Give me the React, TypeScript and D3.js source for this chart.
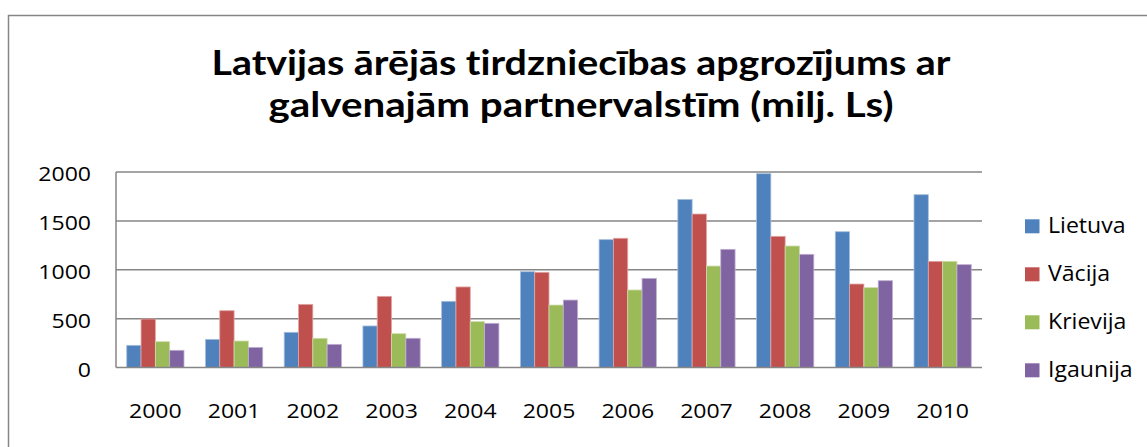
import React from "react";
import * as d3 from "d3";

const years = ["2000", "2001", "2002", "2003", "2004", "2005", "2006", "2007", "2008", "2009", "2010"];
const seriesNames = ["Lietuva", "Vācija", "Krievija", "Igaunija"];
const lietuva = [227, 288, 360, 425, 677, 980, 1308, 1720, 1983, 1389, 1768];
const vacija = [496, 581, 646, 728, 824, 974, 1322, 1570, 1342, 854, 1086];
const krievija = [264, 271, 299, 346, 469, 639, 793, 1038, 1243, 817, 1086];
const igaunija = [176, 206, 237, 299, 452, 690, 912, 1209, 1158, 888, 1052];
const yTicks = [0, 500, 1000, 1500, 2000];
const titleLines = ["Latvijas ārējās tirdzniecības apgrozījums ar", "galvenajām partnervalstīm (milj. Ls)"];

const colors = ["#4F81BD", "#C0504D", "#9BBB59", "#8064A2"];
const strokes = ["#A7C0DE", "#DFA7A6", "#CDDDAC", "#BFB1D0"];
const seriesData = [lietuva, vacija, krievija, igaunija];

const W = 1147;
const H = 447;
const FONT = "'Open Sans', 'DejaVu Sans', sans-serif";
const TITLE_FONT = "Lato, 'Open Sans', sans-serif";
const GRID = "#868686";

type TP = {
  x: number; y: number; anchor?: string; size: number; weight?: string;
  children: React.ReactNode; textLength?: number; sx?: number; family?: string;
};

const T = (p: TP) => (
  <text
    transform={p.textLength ? `translate(${p.x},${p.y})` : `translate(${p.x},${p.y}) scale(${p.sx ?? 1.2},1)`}
    textAnchor={p.anchor || "start"}
    fontFamily={p.family || FONT}
    fontSize={p.size}
    fontWeight={p.weight || "normal"}
    fill="#000"
    textLength={p.textLength}
    lengthAdjust={p.textLength ? "spacingAndGlyphs" : undefined}
    style={{ fontVariantLigatures: "none", fontFeatureSettings: "'liga' 0, 'clig' 0, 'dlig' 0" }}
  >
    {p.children}
  </text>
);

export default function App() {
  const left = 116;
  const right = 982;
  const top = 172;
  const bottom = 367.5;

  const x = d3.scaleBand<string>().domain(years).range([left, right]).paddingInner(0.2727).paddingOuter(0.1364);
  const outer = d3.scaleBand<string>().domain(years).range([left, right]);
  const inner = d3.scaleBand<string>().domain(seriesNames).range([0, x.bandwidth()]);
  const y = d3.scaleLinear().domain([0, 2000]).range([bottom, top]);

  return (
    <svg width={W} height={H} style={{ position: "absolute", left: 0, top: 0, background: "#fff" }}>
      <rect x={0} y={0} width={W} height={H} fill="#fff" />
      <rect x={8.5} y={15.5} width={W + 20} height={H + 20} fill="none" stroke={GRID} strokeWidth={1.5} />

      <T x={581} y={74.5} anchor="middle" size={34} weight="bold" family={TITLE_FONT} textLength={739}>{titleLines[0]}</T>
      <T x={581} y={116.5} anchor="middle" size={34} weight="bold" family={TITLE_FONT} textLength={625}>{titleLines[1]}</T>

      {yTicks.map((t) => (
        <g key={t}>
          {t > 0 && <line x1={left} x2={right} y1={y(t)} y2={y(t)} stroke={GRID} strokeWidth={1.5} />}
          <T x={91} y={y(t) + 9} anchor="end" size={19.2}>{String(t)}</T>
        </g>
      ))}

      {seriesData.map((vals, si) =>
        vals.map((v, i) => (
          <rect
            key={`${si}-${i}`}
            x={(x(years[i]) as number) + (inner(seriesNames[si]) as number)}
            y={y(v)}
            width={inner.bandwidth()}
            height={bottom - y(v)}
            fill={colors[si]}
            stroke={strokes[si]}
            strokeWidth={0.8}
          />
        ))
      )}

      <line x1={left} x2={left} y1={top} y2={bottom} stroke={GRID} strokeWidth={1.5} />
      <line x1={left} x2={right} y1={bottom} y2={bottom} stroke={GRID} strokeWidth={1.5} />

      {years.map((yr) => (
        <T key={yr} x={(outer(yr) as number) + outer.bandwidth() / 2} y={418} anchor="middle" size={19.2}>{yr}</T>
      ))}

      {seriesNames.map((n, i) => (
        <g key={n}>
          <rect x={1025} y={219.3 + i * 48} width={14.5} height={14} fill={colors[i]} />
          <T x={1048} y={233.3 + i * 48} size={21} sx={1.1}>{n}</T>
        </g>
      ))}
    </svg>
  );
}
